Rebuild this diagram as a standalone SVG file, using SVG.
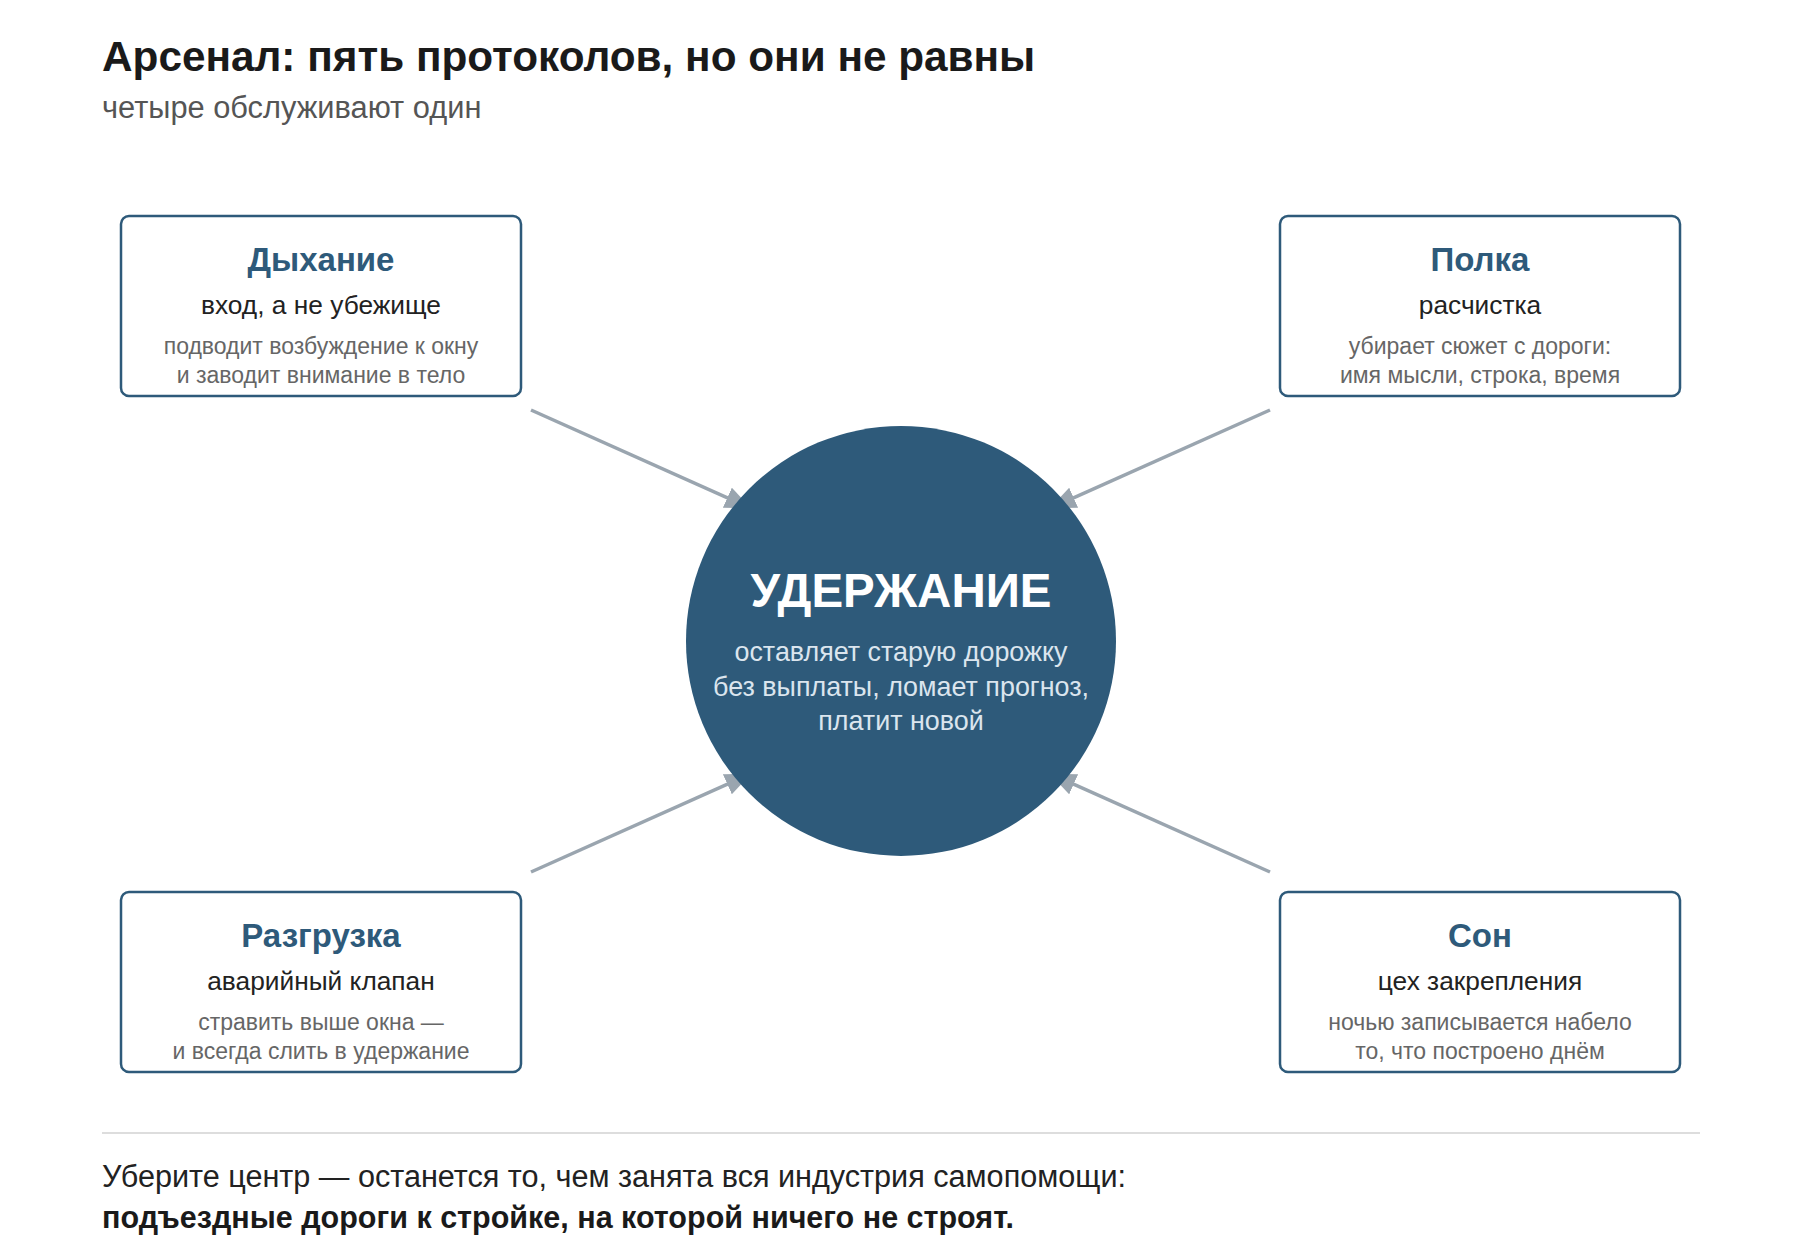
<svg xmlns="http://www.w3.org/2000/svg" width="1801" height="1251" viewBox="0 0 1801 1251">
  <style>
    text { font-family: "Liberation Sans", Arial, "Noto Sans", sans-serif; }
    .h1 { font-size: 42.3px; font-weight: bold; fill: #1a1a1a; }
    .sub { font-size: 30.8px; fill: #555555; }
    .box { fill: #ffffff; stroke: #2e5a7a; stroke-width: 2.5; }
    .bt { font-size: 33px; font-weight: bold; fill: #2e5a7a; text-anchor: middle; }
    .bs { font-size: 26.3px; fill: #222222; text-anchor: middle; }
    .bd { font-size: 23px; fill: #666666; text-anchor: middle; }
    .ct { font-size: 47.5px; font-weight: bold; fill: #ffffff; text-anchor: middle; }
    .cb { font-size: 26.9px; fill: #dbe5ee; text-anchor: middle; }
    .conn { stroke: #9aa5af; stroke-width: 3.5; fill: none; marker-end: url(#arr); }
    .foot { font-size: 30.6px; fill: #222222; }
    .footb { font-size: 30.5px; font-weight: bold; fill: #1a1a1a; }
  </style>
  <defs>
    <marker id="arr" markerUnits="userSpaceOnUse" markerWidth="28" markerHeight="24" refX="21" refY="11" orient="auto">
      <path d="M0,0 L26,11 L0,22 z" fill="#9aa5af"/>
    </marker>
  </defs>
  <rect width="1801" height="1251" fill="#ffffff"/>

  <g id="header">
    <text class="h1" x="102" y="71">Арсенал: пять протоколов, но они не равны</text>
    <text class="sub" x="102" y="118">четыре обслуживают один</text>
  </g>

  <g id="connectors">
    <line class="conn" x1="531" y1="410" x2="746.5" y2="506.3"/>
    <line class="conn" x1="1270" y1="410" x2="1054.5" y2="506.3"/>
    <line class="conn" x1="531" y1="872" x2="746.5" y2="775.7"/>
    <line class="conn" x1="1270" y1="872" x2="1054.5" y2="775.7"/>
  </g>

  <g id="center">
    <circle cx="901" cy="641" r="215" fill="#2e5a7a"/>
    <text class="ct" x="901" y="607">УДЕРЖАНИЕ</text>
    <text class="cb" x="901" y="661">оставляет старую дорожку</text>
    <text class="cb" x="901" y="696">без выплаты, ломает прогноз,</text>
    <text class="cb" x="901" y="730">платит новой</text>
  </g>

  <g id="node-breath">
    <rect class="box" x="121" y="216" width="400" height="180" rx="8"/>
    <text class="bt" x="321" y="271">Дыхание</text>
    <text class="bs" x="321" y="314">вход, а не убежище</text>
    <text class="bd" x="321" y="354">подводит возбуждение к окну</text>
    <text class="bd" x="321" y="383">и заводит внимание в тело</text>
  </g>

  <g id="node-shelf">
    <rect class="box" x="1280" y="216" width="400" height="180" rx="8"/>
    <text class="bt" x="1480" y="271">Полка</text>
    <text class="bs" x="1480" y="314">расчистка</text>
    <text class="bd" x="1480" y="354">убирает сюжет с дороги:</text>
    <text class="bd" x="1480" y="383">имя мысли, строка, время</text>
  </g>

  <g id="node-unload">
    <rect class="box" x="121" y="892" width="400" height="180" rx="8"/>
    <text class="bt" x="321" y="947">Разгрузка</text>
    <text class="bs" x="321" y="990">аварийный клапан</text>
    <text class="bd" x="321" y="1030">стравить выше окна —</text>
    <text class="bd" x="321" y="1059">и всегда слить в удержание</text>
  </g>

  <g id="node-sleep">
    <rect class="box" x="1280" y="892" width="400" height="180" rx="8"/>
    <text class="bt" x="1480" y="947">Сон</text>
    <text class="bs" x="1480" y="990">цех закрепления</text>
    <text class="bd" x="1480" y="1030">ночью записывается набело</text>
    <text class="bd" x="1480" y="1059">то, что построено днём</text>
  </g>

  <g id="footer">
    <line x1="102" y1="1133" x2="1700" y2="1133" stroke="#dddddd" stroke-width="2"/>
    <text class="foot" x="102" y="1187">Уберите центр — останется то, чем занята вся индустрия самопомощи:</text>
    <text class="footb" x="102" y="1228">подъездные дороги к стройке, на которой ничего не строят.</text>
  </g>
</svg>
